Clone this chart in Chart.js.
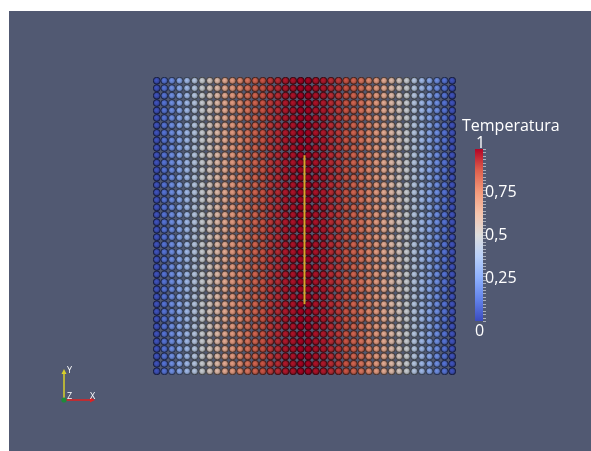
<!DOCTYPE html>
<html>
<head>
<meta charset="utf-8">
<script src="https://cdn.jsdelivr.net/npm/chart.js@4.4.1/dist/chart.umd.min.js"></script>
<style>
html,body{margin:0;padding:0;background:#ffffff;width:591px;height:451px;overflow:hidden;}
#wrap{position:absolute;left:9px;top:11px;width:582px;height:440px;background:rgb(81,89,114);}
canvas{display:block;}
</style>
</head>
<body>
<div id="wrap"><canvas id="c" width="582" height="440"></canvas></div>
<script>
// ---- data ----
const columns = [0,1,2,3,4,5,6,7,8,9,10,11,12,13,14,15,16,17,18,19,20,21,22,23,24,25,26,27,28,29,30,31,32,33,34,35,36,37,38,39];
const rows = [0,1,2,3,4,5,6,7,8,9,10,11,12,13,14,15,16,17,18,19,20,21,22,23,24,25,26,27,28,29,30,31,32,33,34,35,36,37,38,39];
const temperature = [0.03,0.11,0.19,0.27,0.34,0.41,0.48,0.54,0.60,0.66,0.71,0.76,0.81,0.85,0.88,0.92,0.94,0.97,0.98,1.00,
                     1.00,0.98,0.97,0.94,0.92,0.88,0.85,0.81,0.76,0.71,0.66,0.60,0.54,0.48,0.41,0.34,0.27,0.19,0.11,0.03];
const probeX = [19.5, 19.5];
const probeY = [9, 29];
const colorbarTicks = [0, 0.25, 0.5, 0.75, 1];
const colorbarLabels = ['0', '0,25', '0,5', '0,75', '1'];
const colorbarTitle = 'Temperatura';

// ---- colormap (cool to warm) ----
const cmap = [
  [0.0,[59,76,192]],[0.125,[98,130,234]],[0.25,[141,176,254]],[0.375,[184,208,249]],
  [0.5,[221,221,221]],[0.625,[245,196,173]],[0.75,[244,154,123]],[0.875,[222,96,77]],[1.0,[180,4,38]]
];
function colorAt(v){
  v=Math.max(0,Math.min(1,v));
  for(let i=0;i<cmap.length-1;i++){
    const a=cmap[i],b=cmap[i+1];
    if(v<=b[0]){const t=(v-a[0])/(b[0]-a[0]);return a[1].map((c,k)=>Math.round(c+(b[1][k]-c)*t));}
  }
  return cmap[cmap.length-1][1];
}
const rgb=(c,f=1)=>`rgb(${Math.round(c[0]*f)},${Math.round(c[1]*f)},${Math.round(c[2]*f)})`;
const mixW=(c,t)=>c.map(x=>Math.round(x+(255-x)*t));

const points=[];
rows.forEach(r=>columns.forEach((c,i)=>points.push({x:c,y:r,t:temperature[i]})));

function sphereFill(ctx){
  const chart=ctx.chart;
  const p=ctx.raw; if(!p||!chart.scales||!chart.scales.x) return 'grey';
  const col=colorAt(p.t);
  const px=chart.scales.x.getPixelForValue(p.x), py=chart.scales.y.getPixelForValue(p.y);
  if(!isFinite(px)||!isFinite(py)) return rgb(col);
  const g=chart.ctx.createRadialGradient(px-0.6,py-0.6,0,px,py,3.9);
  g.addColorStop(0,rgb(col,0.95));
  g.addColorStop(0.5,rgb(col,0.82));
  g.addColorStop(1,rgb(col,0.45));
  return g;
}

const bgPlugin={
  id:'extras',
  afterDraw(chart){
    const ctx=chart.ctx;
    // colorbar
    const bx=466, bw=8, top=138, bot=310;
    const g=ctx.createLinearGradient(0,bot,0,top);
    cmap.forEach(s=>g.addColorStop(s[0],rgb(s[1])));
    ctx.fillStyle=g; ctx.fillRect(bx,top,bw,bot-top);
    ctx.strokeStyle='rgba(190,195,205,0.8)'; ctx.lineWidth=1;
    for(let i=0;i<=50;i++){
      const y=Math.round(bot-(bot-top)*i/50)+0.5;
      ctx.beginPath();ctx.moveTo(bx+bw,y);ctx.lineTo(bx+bw+3,y);ctx.stroke();
    }
    ctx.fillStyle='#ffffff';
    ctx.font='16px "Open Sans", sans-serif';
    ctx.textBaseline='middle';ctx.textAlign='left';
    ctx.fillText(colorbarTitle,453,115);
    colorbarTicks.forEach((v,i)=>{
      let y=bot-(bot-top)*v, x=bx+bw+2;
      if(v===1){y=top-6;x=bx+1;}
      if(v===0){y=bot+10;x=bx;}
      ctx.fillText(colorbarLabels[i],x,y);
    });
    // axes triad
    const ox=55, oy=389;
    ctx.lineWidth=1.5;
    ctx.strokeStyle='#d8d02a';ctx.fillStyle='#d8d02a';
    ctx.beginPath();ctx.moveTo(ox,oy);ctx.lineTo(ox,oy-27);ctx.stroke();
    ctx.beginPath();ctx.moveTo(ox-2.5,oy-26);ctx.lineTo(ox+2.5,oy-26);ctx.lineTo(ox,oy-31);ctx.closePath();ctx.fill();
    ctx.strokeStyle='#e02020';ctx.fillStyle='#e02020';
    ctx.beginPath();ctx.moveTo(ox,oy);ctx.lineTo(ox+27,oy);ctx.stroke();
    ctx.beginPath();ctx.moveTo(ox+26,oy-2.5);ctx.lineTo(ox+26,oy+2.5);ctx.lineTo(ox+31,oy);ctx.closePath();ctx.fill();
    ctx.fillStyle='#1f8a3a';ctx.beginPath();ctx.arc(ox,oy,2.6,0,Math.PI*2);ctx.fill();
    ctx.fillStyle='#ffffff';ctx.font='9px "Open Sans", sans-serif';ctx.textAlign='left';
    ctx.fillText('Y',ox+3,oy-30);
    ctx.fillText('Z',ox+3,oy-4);
    ctx.fillText('X',ox+26,oy-4);
  }
};

new Chart(document.getElementById('c'),{
  type:'scatter',
  data:{datasets:[
    {type:'line',data:probeX.map((x,i)=>({x:x,y:probeY[i]})),borderColor:'#d9a52a',borderWidth:2,pointRadius:0,order:0},
    {data:points,pointRadius:3.5,pointBorderWidth:0.8,
     pointBackgroundColor:sphereFill,
     pointBorderColor:ctx=>ctx.raw?rgb(colorAt(ctx.raw.t),0.28):'#000',
     order:1}
  ]},
  options:{
    responsive:false,animation:false,devicePixelRatio:1,
    layout:{padding:{left:144,right:135,top:66,bottom:76}},
    plugins:{legend:{display:false},tooltip:{enabled:false}},
    events:[],
    scales:{
      x:{type:'linear',min:-0.5,max:39.5,display:false},
      y:{type:'linear',min:-0.5,max:39.5,display:false}
    }
  },
  plugins:[bgPlugin]
});
</script>
</body>
</html>
